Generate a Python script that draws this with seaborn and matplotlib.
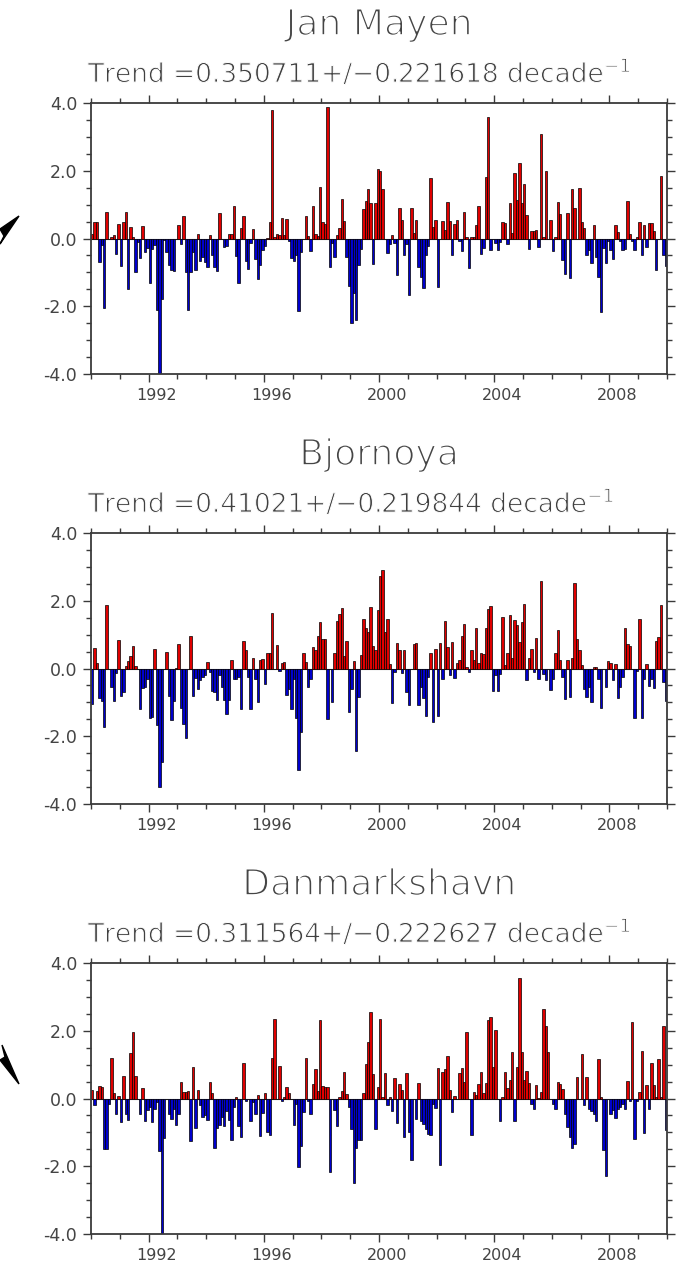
import numpy as np
import pandas as pd
import matplotlib
matplotlib.use("Agg")
import matplotlib.pyplot as plt
import matplotlib.patheffects as pe
from matplotlib.patches import Polygon
from matplotlib.ticker import MultipleLocator, FixedLocator
from matplotlib.transforms import ScaledTranslation
import seaborn as sns

# Monthly temperature anomalies, Jan 1990 - Dec 2009 (one row per year)
jan_mayen = [
    0.14, 0.48, 0.48, -0.70, -0.20, -2.06, 0.77, 0.00, 0.05, 0.10, -0.47, 0.43,
    -0.82, 0.50, 0.77, -1.48, 0.33, 0.03, -1.00, -0.10, -0.58, 0.36, -0.40, -0.28,
    -1.30, -0.30, -0.20, -2.10, -4.00, -1.80, -0.05, -0.40, -0.78, -0.92, -0.95, 0.00,
    0.40, -0.15, 0.65, -1.00, -2.10, -0.98, -0.40, -0.92, 0.12, -0.65, -0.55, -0.70,
    -0.85, 0.10, -0.50, -0.85, -0.95, 0.75, 0.00, -0.25, -0.22, 0.14, 0.14, 0.95,
    -0.52, -1.30, 0.30, 0.66, -0.65, -0.90, -0.13, 0.27, -0.60, -1.20, -0.77, -0.33,
    -0.23, 0.02, 0.50, 3.78, 0.05, 0.14, 0.10, 0.60, 0.10, 0.58, -0.06, -0.57,
    -0.67, -0.50, -2.14, -0.40, 0.00, 0.65, 0.07, -0.36, 0.95, 0.14, 0.07, 1.52,
    0.49, 0.42, 3.88, -0.85, -0.13, -0.55, 0.10, 0.32, 1.18, 0.52, -0.55, -1.39,
    -2.50, -1.60, -2.40, -0.77, -0.30, 0.86, 1.10, 1.45, 1.04, -0.74, 1.06, 2.04,
    1.98, 1.47, 0.00, -0.44, -0.16, 0.10, -0.14, -1.07, 0.89, 0.55, -0.48, -0.16,
    -1.66, 0.91, 0.15, 0.56, -0.85, -1.15, -1.45, -0.50, -0.23, 1.78, 0.34, 0.55,
    -1.42, 0.00, 0.51, 0.25, 1.08, 0.51, -0.48, 0.42, 0.55, -0.08, -0.36, 0.78,
    0.05, -0.88, 0.03, 0.03, 0.39, 0.96, -0.46, -0.28, 1.82, 3.60, -0.33, 0.00,
    -0.13, -0.33, -0.11, 0.49, 0.45, -0.15, 1.04, 0.17, 1.94, 1.15, 2.24, 1.06,
    1.60, 0.70, -0.31, 0.22, 0.22, 0.25, -0.24, 3.09, 0.04, 1.98, 0.00, 0.55,
    -0.36, 0.03, 1.08, 0.71, -0.64, -1.05, 0.74, -1.17, 1.46, 0.91, 0.00, 1.50,
    0.49, 0.32, -0.48, -0.33, -0.72, 0.40, -0.54, -1.15, -2.18, -0.28, -0.72, -0.08,
    -0.33, -0.60, 0.40, 0.19, -0.08, -0.33, -0.31, 1.10, 0.14, -0.08, -0.33, 0.04,
    0.48, -0.50, 0.39, -0.24, 0.45, 0.45, 0.22, -0.92, 0.00, 1.85, -0.48, -0.82,
]

bjornoya = [
    -1.04, 0.61, 0.17, -0.87, -0.97, -1.73, 1.88, 0.00, -0.56, -0.97, -0.13, 0.84,
    -0.82, -0.69, 0.08, 0.23, 0.37, 0.67, 0.06, 0.00, -1.19, -0.57, -0.54, -0.30,
    -1.47, -1.44, 0.57, -1.66, -3.50, -2.75, 0.00, 0.50, -0.81, -1.51, -0.97, 0.02,
    0.71, -1.17, -1.63, -2.06, 0.00, 0.96, -0.81, -0.28, -0.60, -0.35, -0.25, -0.18,
    0.18, -0.10, -0.67, -0.69, -0.94, -0.20, -0.54, -0.92, -1.34, -0.92, 0.25, -0.30,
    -0.32, -0.25, -1.21, 0.81, 0.54, -0.25, -1.21, 0.30, -0.32, -0.99, 0.25, 0.28,
    -0.47, 0.45, 0.45, 1.63, 0.00, 0.69, -0.07, 0.15, 0.18, -0.77, -0.60, -1.19,
    -0.32, -1.45, -3.00, -1.88, 0.45, 0.19, -0.54, -0.32, 0.63, 0.55, 0.97, 1.37,
    0.87, 0.87, -1.49, 0.00, -0.99, 0.45, 1.41, 1.60, 1.78, 0.37, 0.80, -1.29,
    -0.60, 0.22, -2.45, -0.84, 0.40, 1.46, 1.19, 1.09, 1.82, 0.67, 0.54, 1.72,
    2.72, 2.90, 1.09, 1.47, 0.12, -1.02, -0.10, 0.74, 0.56, -0.13, 0.54, -0.69,
    -1.09, 0.00, 0.72, 0.76, -1.09, -0.54, -0.87, -1.39, -0.25, 0.47, -1.59, 0.58,
    -1.41, 0.76, -0.32, 1.39, 0.62, -0.20, 0.79, -0.28, 0.17, 0.25, 0.96, 1.32,
    0.05, -0.10, 0.56, 0.25, 1.21, 0.17, 0.45, 0.42, 1.21, 1.76, 1.85, -0.66,
    -0.20, -0.66, -0.15, 1.51, 0.10, 0.47, 1.58, 0.30, 1.44, 1.29, 0.79, 1.37,
    1.90, -0.33, 0.32, 0.58, -0.10, 0.91, -0.30, 2.59, -0.15, -0.33, 0.00, -0.62,
    -0.30, 0.45, 1.15, 0.25, -0.25, -0.89, 0.25, -0.84, 0.30, 2.52, 0.88, 0.54,
    0.10, -0.60, -0.84, -0.54, -0.99, 0.05, 0.03, -0.30, -1.17, 0.00, -0.54, 0.22,
    0.15, -0.35, 0.12, -0.86, -0.54, -0.25, 1.21, 0.72, 0.67, 0.00, -1.46, -0.07,
    1.47, -1.47, -0.32, 0.12, -0.51, -0.32, -0.59, 0.81, 0.92, 1.88, -0.40, -0.96,
]

danmarkshavn = [
    0.25, -0.20, 0.22, 0.37, 0.33, -1.49, -1.49, -0.17, 1.19, 0.15, -0.45, 0.07,
    -0.69, 0.67, -0.45, -0.64, 1.34, 1.96, 0.67, 0.00, -0.45, 0.32, -0.67, -0.35,
    -0.25, -0.69, -0.30, -0.10, -1.56, -4.00, -1.17, 0.00, -0.45, -0.61, -0.30, -0.77,
    -0.45, 0.50, 0.20, 0.20, 0.22, -1.25, 0.94, -0.87, 0.25, -0.18, -0.54, -0.49,
    -0.64, 0.48, 0.15, -1.47, -0.87, -0.79, -0.54, -0.81, -0.38, -0.64, -1.22, -0.25,
    0.05, -0.81, -1.13, 1.04, -0.07, 0.00, -0.66, -0.10, -0.45, 0.10, -1.11, -0.42,
    0.15, -0.99, -1.07, 1.19, 2.35, 0.00, 0.96, -0.07, 0.05, 0.35, 0.15, 0.00,
    -0.77, -0.15, -2.03, -1.41, -0.40, 1.19, -0.08, -0.46, 0.42, 0.87, 0.22, 2.31,
    0.37, 0.35, 0.35, -2.16, 0.00, -0.35, -0.81, 0.05, 0.22, 0.77, 0.12, -0.25,
    -0.89, -2.50, -1.45, -1.22, -1.22, 0.17, 1.02, 1.68, 2.55, 0.72, -0.91, 0.33,
    2.35, 0.05, 0.74, -0.18, 0.05, -0.37, 0.61, -0.71, 0.42, 0.25, -1.14, 0.74,
    -0.99, -1.83, 0.00, -0.61, 0.47, -0.65, -0.74, -0.89, -1.04, -1.07, -0.15, -0.28,
    0.91, -1.95, 0.79, 0.88, 1.26, 0.25, -0.40, 0.08, 0.00, 0.74, 0.91, 0.50,
    1.96, 0.00, -1.07, 0.18, 0.10, 0.42, 0.79, 0.16, 0.45, 2.31, 2.40, 0.93,
    2.03, 0.00, -0.65, 0.05, 0.79, 0.30, 0.54, 1.37, -0.67, 0.94, 3.56, 1.37,
    0.54, 0.82, 0.45, -0.17, -0.30, 0.40, 0.02, 0.18, 2.64, 2.13, 1.37, 0.00,
    -0.17, -0.30, 0.48, 0.42, 0.28, -0.46, -0.85, -1.14, -1.46, -1.35, 0.62, 0.00,
    1.31, -0.18, 0.62, -0.30, -0.36, -0.45, -0.67, 1.16, 0.05, -1.51, -2.28, 0.00,
    -0.45, -0.33, -0.59, -0.31, -0.25, -0.15, -0.31, 0.51, -0.07, 2.25, -1.21, -0.07,
    0.20, 1.40, -1.02, 0.40, -0.30, 1.04, 0.40, 0.05, 1.17, 0.05, 2.13, -0.94,
]

stations = ["Jan Mayen", "Bjornoya", "Danmarkshavn"]
series = [jan_mayen, bjornoya, danmarkshavn]
trend = ["0.350711", "0.41021", "0.311564"]
trend_err = ["0.221618", "0.219844", "0.222627"]
year_ticks = [1992, 1996, 2000, 2004, 2008]
value_ticks = [-4.0, -2.0, 0.0, 2.0, 4.0]
start_year = 1990

RED = "#e00000"
BLUE = "#0000cc"
TEXT = "#444444"
FRAME = "#3a3a3a"

sns.set_theme(style="ticks")
plt.rcParams["font.family"] = ["DejaVu Sans"]
plt.rcParams["axes.unicode_minus"] = False

W, H = 687, 1281
fig = plt.figure(figsize=(W / 100, H / 100), dpi=100)
fig.patch.set_facecolor("white")

panel_tops = [103, 533, 963]
panel_h = 271
ax_left, ax_w = 91, 576
label_shift = ScaledTranslation(8 / 100, 0, fig.dpi_scale_trans)
# thin-stroke look for the header lettering
thin_title = [pe.Stroke(linewidth=1.2, foreground="white")]
thin_trend = [pe.Stroke(linewidth=0.7, foreground="white")]

for top, name, vals, tr, err in zip(panel_tops, stations, series, trend, trend_err):
    vals = np.asarray(vals, dtype=float)
    n = len(vals)
    df = pd.DataFrame({
        "time": start_year + (np.arange(n) + 0.5) / 12.0,
        "anom": vals,
        "sign": np.where(vals >= 0, "pos", "neg"),
    })
    ax = fig.add_axes([ax_left / W, 1 - (top + panel_h) / H, ax_w / W, panel_h / H])
    sns.barplot(data=df, x="time", y="anom", hue="sign",
                palette={"pos": RED, "neg": BLUE}, native_scale=True,
                dodge=False, width=1.0, errorbar=None, legend=False,
                edgecolor="black", linewidth=0.5, saturation=1.0, ax=ax)
    ax.axhline(0, color="#555555", lw=0.8, zorder=0.5)

    ax.set_xlim(start_year, start_year + n / 12.0)
    ax.set_ylim(-4, 4)
    ax.xaxis.set_major_locator(FixedLocator(year_ticks))
    ax.xaxis.set_minor_locator(MultipleLocator(1))
    ax.yaxis.set_major_locator(FixedLocator(value_ticks))
    ax.yaxis.set_minor_locator(MultipleLocator(0.5))
    ax.set_xticklabels([str(y) for y in year_ticks])
    ax.set_yticklabels([f"{v:.1f}" for v in value_ticks])
    ax.set_xlabel("")
    ax.set_ylabel("")
    ax.tick_params(which="both", direction="out", top=True, right=True,
                   color=FRAME, width=1.0, labelcolor=TEXT)
    ax.tick_params(which="major", length=6, pad=4)
    ax.tick_params(which="minor", length=3.5)
    ax.tick_params(axis="x", labelsize=11.5)
    ax.tick_params(axis="y", labelsize=12.5)
    for lab in ax.get_xticklabels():
        lab.set_transform(lab.get_transform() + label_shift)
    for sp in ax.spines.values():
        sp.set_visible(True)
        sp.set_color(FRAME)
        sp.set_linewidth(1.3)

    cx = (ax_left + ax_w / 2) / W
    fig.text(cx, 1 - (top - 78) / H, name, ha="center", va="center",
             fontsize=26, color="#454545", path_effects=thin_title)
    fig.text(88 / W, 1 - (top - 30) / H,
             f"Trend ={tr}+/\u2212{err} decade$^{{-1}}$",
             ha="left", va="center", fontsize=19, color="#404040",
             path_effects=thin_trend)

# arrow heads entering from the left margin
def px(pts):
    return [(x / W, 1 - y / H) for x, y in pts]

fig.add_artist(Polygon(px([(19, 216), (0, 229), (4, 236), (0, 244)]),
                       closed=True, color="black", transform=fig.transFigure))
fig.add_artist(Polygon(px([(19, 1084), (0, 1060), (5, 1057), (2, 1045)]),
                       closed=True, color="black", transform=fig.transFigure))

fig.savefig("out.png", dpi=100, facecolor="white")
